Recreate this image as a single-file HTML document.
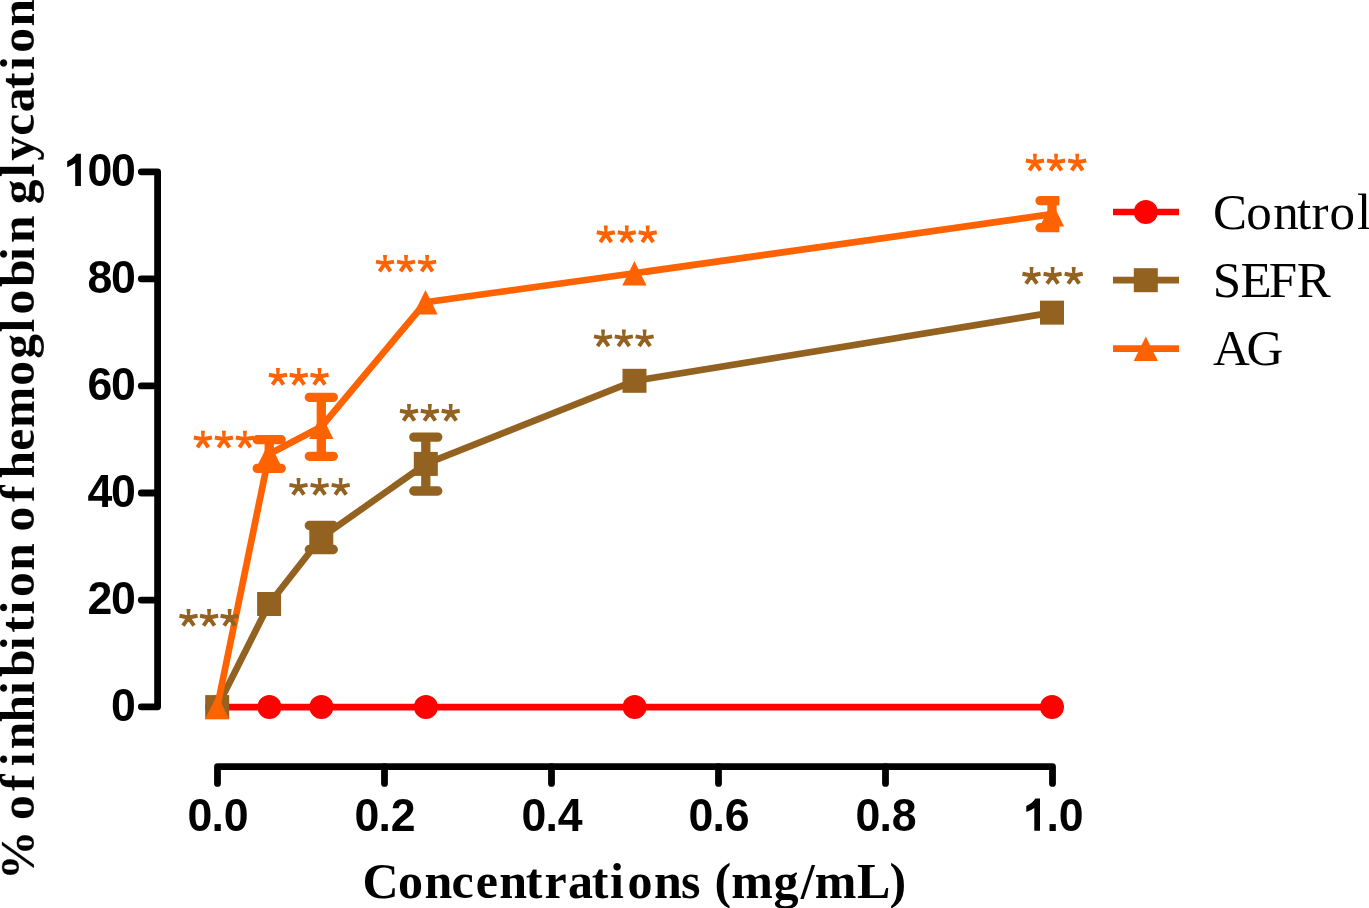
<!DOCTYPE html>
<html><head><meta charset="utf-8"><style>
html,body{margin:0;padding:0;background:#fff;width:1369px;height:908px;overflow:hidden}
svg{display:block}
text{font-kerning:none}
.t{font-family:"Liberation Sans",sans-serif;font-weight:bold}
.s{font-family:"Liberation Serif",serif}
.sb{font-family:"Liberation Serif",serif;font-weight:bold}
</style></head><body>
<svg width="1369" height="908" viewBox="0 0 1369 908"><g opacity="0.999">
<defs><clipPath id="cp"><rect x="0" y="0" width="1059.4" height="908"/></clipPath></defs>
<path d="M141.3 171.8H157.6V706.8H141.3" fill="none" stroke="#000" stroke-width="6.8" stroke-linecap="round" stroke-linejoin="round"/>
<path d="M141.3 600.04H157.6" stroke="#000" stroke-width="6.8" stroke-linecap="round"/>
<path d="M141.3 492.98H157.6" stroke="#000" stroke-width="6.8" stroke-linecap="round"/>
<path d="M141.3 385.92H157.6" stroke="#000" stroke-width="6.8" stroke-linecap="round"/>
<path d="M141.3 278.86H157.6" stroke="#000" stroke-width="6.8" stroke-linecap="round"/>
<path d="M217.5 783.4V766.6H1052.5V783.4" fill="none" stroke="#000" stroke-width="6.8" stroke-linecap="round" stroke-linejoin="round"/>
<path d="M384.50 766.6V783.4" stroke="#000" stroke-width="6.8" stroke-linecap="round"/>
<path d="M551.50 766.6V783.4" stroke="#000" stroke-width="6.8" stroke-linecap="round"/>
<path d="M718.50 766.6V783.4" stroke="#000" stroke-width="6.8" stroke-linecap="round"/>
<path d="M885.50 766.6V783.4" stroke="#000" stroke-width="6.8" stroke-linecap="round"/>
<text class="t" transform="scale(0.95 1)" x="197.42 222.53 235.47" y="830.80" font-size="47">0.0</text>
<text class="t" transform="scale(0.95 1)" x="373.21 398.32 411.26" y="830.80" font-size="47">0.2</text>
<text class="t" transform="scale(0.95 1)" x="549.00 574.11 587.05" y="830.80" font-size="47">0.4</text>
<text class="t" transform="scale(0.95 1)" x="724.79 749.89 762.84" y="830.80" font-size="47">0.6</text>
<text class="t" transform="scale(0.95 1)" x="900.58 925.68 938.63" y="830.80" font-size="47">0.8</text>
<path d="M1035.40 798.60 L1040.00 798.60 L1040.00 830.80 L1034.30 830.80 L1034.30 807.90 Q1030.60 810.60 1026.30 812.10 L1026.30 806.10 Q1032.10 803.60 1035.40 798.60Z" fill="#000"/>
<text class="t" transform="scale(0.95 1)" x="1101.47 1114.42" y="830.80" font-size="47">.0</text>
<path d="M76.30 153.80 L80.90 153.80 L80.90 186.00 L75.20 186.00 L75.20 163.10 Q71.50 165.80 67.20 167.30 L67.20 161.30 Q73.00 158.80 76.30 153.80Z" fill="#000"/>
<text class="t" transform="scale(0.95 1)" x="92.00 116.95" y="186.20" font-size="47">00</text>
<text class="t" transform="scale(0.95 1)" x="92.00 116.95" y="293.26" font-size="47">80</text>
<text class="t" transform="scale(0.95 1)" x="92.00 116.95" y="400.32" font-size="47">60</text>
<text class="t" transform="scale(0.95 1)" x="92.00 116.95" y="507.38" font-size="47">40</text>
<text class="t" transform="scale(0.95 1)" x="92.00 116.95" y="614.44" font-size="47">20</text>
<text class="t" transform="scale(0.95 1)" x="116.95" y="721.50" font-size="47">0</text>
<path d="M217.20 707.10 L269.40 707.10 L321.40 707.10 L425.90 707.10 L634.60 707.10 L1052.00 707.10" fill="none" stroke="#FF0000" stroke-width="6.7" stroke-linejoin="round"/>
<circle cx="217.20" cy="707.10" r="12" fill="#FF0000"/>
<circle cx="269.40" cy="707.10" r="12" fill="#FF0000"/>
<circle cx="321.40" cy="707.10" r="12" fill="#FF0000"/>
<circle cx="425.90" cy="707.10" r="12" fill="#FF0000"/>
<circle cx="634.60" cy="707.10" r="12" fill="#FF0000"/>
<circle cx="1052.00" cy="707.10" r="12" fill="#FF0000"/>
<path d="M217.20 707.10 L269.10 604.00 L321.30 537.50 L425.80 463.90 L634.50 380.80 L1052.00 312.65" fill="none" stroke="#936220" stroke-width="6.7" stroke-linejoin="round"/>
<g stroke="#936220" stroke-width="9.3" fill="none"><path d="M321.30 525.50V549.50"/><path d="M309.30 525.50H333.30M309.30 549.50H333.30" stroke-linecap="round"/></g>
<g stroke="#936220" stroke-width="9.3" fill="none"><path d="M425.80 437.10V491.00"/><path d="M413.80 437.10H437.80M413.80 491.00H437.80" stroke-linecap="round"/></g>
<rect x="205.20" y="695.10" width="24" height="24" fill="#936220"/>
<rect x="257.10" y="592.00" width="24" height="24" fill="#936220"/>
<rect x="309.30" y="525.50" width="24" height="24" fill="#936220"/>
<rect x="413.80" y="451.90" width="24" height="24" fill="#936220"/>
<rect x="622.50" y="368.80" width="24" height="24" fill="#936220"/>
<rect x="1040.00" y="300.65" width="24" height="24" fill="#936220"/>
<path d="M217.20 707.10 L269.20 454.00 L321.30 426.80 L425.50 302.30 L634.40 273.25 L1052.00 214.15" fill="none" stroke="#FF6200" stroke-width="6.7" stroke-linejoin="round"/>
<g stroke="#FF6200" stroke-width="9.3" fill="none"><path d="M269.20 439.70V468.40"/><path d="M257.20 439.70H281.20M257.20 468.40H281.20" stroke-linecap="round"/></g>
<g stroke="#FF6200" stroke-width="9.3" fill="none"><path d="M321.30 397.30V456.30"/><path d="M309.30 397.30H333.30M309.30 456.30H333.30" stroke-linecap="round"/></g>
<g stroke="#FF6200" stroke-width="9.3" fill="none" clip-path="url(#cp)"><path d="M1052.00 200.60V227.70"/><path d="M1040.00 200.60H1064.00M1040.00 227.70H1064.00" stroke-linecap="round"/></g>
<path d="M217.20 694.85L229.35 719.35H205.05Z" fill="#FF6200"/>
<path d="M269.20 441.75L281.35 466.25H257.05Z" fill="#FF6200"/>
<path d="M321.30 414.55L333.45 439.05H309.15Z" fill="#FF6200"/>
<path d="M425.50 290.05L437.65 314.55H413.35Z" fill="#FF6200"/>
<path d="M634.40 261.00L646.55 285.50H622.25Z" fill="#FF6200"/>
<path d="M1052.00 201.90L1064.15 226.40H1039.85Z" fill="#FF6200"/>
<path d="M1032.90 153.80H1036.90L1036.40 159.30L1036.50 162.30H1033.30L1033.40 159.30ZM1054.05 153.80H1058.05L1057.55 159.30L1057.65 162.30H1054.45L1054.55 159.30ZM1075.20 153.80H1079.20L1078.70 159.30L1078.80 162.30H1075.60L1075.70 159.30Z" fill="#FF6200"/><path d="M1034.90 162.30L1043.93 160.54M1034.90 162.30L1025.87 160.54M1034.90 162.30L1040.41 170.37M1034.90 162.30L1029.39 170.37M1056.05 162.30L1065.08 160.54M1056.05 162.30L1047.02 160.54M1056.05 162.30L1061.56 170.37M1056.05 162.30L1050.54 170.37M1077.20 162.30L1086.23 160.54M1077.20 162.30L1068.17 160.54M1077.20 162.30L1082.71 170.37M1077.20 162.30L1071.69 170.37" stroke="#FF6200" stroke-width="4" fill="none"/>
<path d="M1029.50 267.06H1033.50L1033.00 272.56L1033.10 275.56H1029.90L1030.00 272.56ZM1050.60 267.06H1054.60L1054.10 272.56L1054.20 275.56H1051.00L1051.10 272.56ZM1071.70 267.06H1075.70L1075.20 272.56L1075.30 275.56H1072.10L1072.20 272.56Z" fill="#936220"/><path d="M1031.50 275.56L1040.53 273.80M1031.50 275.56L1022.47 273.80M1031.50 275.56L1037.01 283.63M1031.50 275.56L1025.99 283.63M1052.60 275.56L1061.63 273.80M1052.60 275.56L1043.57 273.80M1052.60 275.56L1058.11 283.63M1052.60 275.56L1047.09 283.63M1073.70 275.56L1082.73 273.80M1073.70 275.56L1064.67 273.80M1073.70 275.56L1079.21 283.63M1073.70 275.56L1068.19 283.63" stroke="#936220" stroke-width="4" fill="none"/>
<path d="M603.80 225.50H607.80L607.30 231.00L607.40 234.00H604.20L604.30 231.00ZM624.75 225.50H628.75L628.25 231.00L628.35 234.00H625.15L625.25 231.00ZM645.70 225.50H649.70L649.20 231.00L649.30 234.00H646.10L646.20 231.00Z" fill="#FF6200"/><path d="M605.80 234.00L614.83 232.24M605.80 234.00L596.77 232.24M605.80 234.00L611.31 242.07M605.80 234.00L600.29 242.07M626.75 234.00L635.78 232.24M626.75 234.00L617.72 232.24M626.75 234.00L632.26 242.07M626.75 234.00L621.24 242.07M647.70 234.00L656.73 232.24M647.70 234.00L638.67 232.24M647.70 234.00L653.21 242.07M647.70 234.00L642.19 242.07" stroke="#FF6200" stroke-width="4" fill="none"/>
<path d="M601.05 329.60H605.05L604.55 335.10L604.65 338.10H601.45L601.55 335.10ZM621.82 329.60H625.82L625.32 335.10L625.42 338.10H622.22L622.32 335.10ZM642.60 329.60H646.60L646.10 335.10L646.20 338.10H643.00L643.10 335.10Z" fill="#936220"/><path d="M603.05 338.10L612.08 336.34M603.05 338.10L594.02 336.34M603.05 338.10L608.56 346.17M603.05 338.10L597.54 346.17M623.82 338.10L632.86 336.34M623.82 338.10L614.79 336.34M623.82 338.10L629.33 346.17M623.82 338.10L618.32 346.17M644.60 338.10L653.63 336.34M644.60 338.10L635.57 336.34M644.60 338.10L650.11 346.17M644.60 338.10L639.09 346.17" stroke="#936220" stroke-width="4" fill="none"/>
<path d="M383.00 254.90H387.00L386.50 260.40L386.60 263.40H383.40L383.50 260.40ZM404.05 254.90H408.05L407.55 260.40L407.65 263.40H404.45L404.55 260.40ZM425.10 254.90H429.10L428.60 260.40L428.70 263.40H425.50L425.60 260.40Z" fill="#FF6200"/><path d="M385.00 263.40L394.03 261.64M385.00 263.40L375.97 261.64M385.00 263.40L390.51 271.47M385.00 263.40L379.49 271.47M406.05 263.40L415.08 261.64M406.05 263.40L397.02 261.64M406.05 263.40L411.56 271.47M406.05 263.40L400.54 271.47M427.10 263.40L436.13 261.64M427.10 263.40L418.07 261.64M427.10 263.40L432.61 271.47M427.10 263.40L421.59 271.47" stroke="#FF6200" stroke-width="4" fill="none"/>
<path d="M407.00 404.06H411.00L410.50 409.56L410.60 412.56H407.40L407.50 409.56ZM427.85 404.06H431.85L431.35 409.56L431.45 412.56H428.25L428.35 409.56ZM448.70 404.06H452.70L452.20 409.56L452.30 412.56H449.10L449.20 409.56Z" fill="#936220"/><path d="M409.00 412.56L418.03 410.80M409.00 412.56L399.97 410.80M409.00 412.56L414.51 420.63M409.00 412.56L403.49 420.63M429.85 412.56L438.88 410.80M429.85 412.56L420.82 410.80M429.85 412.56L435.36 420.63M429.85 412.56L424.34 420.63M450.70 412.56L459.73 410.80M450.70 412.56L441.67 410.80M450.70 412.56L456.21 420.63M450.70 412.56L445.19 420.63" stroke="#936220" stroke-width="4" fill="none"/>
<path d="M275.95 368.07H279.95L279.45 373.57L279.55 376.57H276.35L276.45 373.57ZM296.72 368.07H300.72L300.22 373.57L300.32 376.57H297.12L297.22 373.57ZM317.50 368.07H321.50L321.00 373.57L321.10 376.57H317.90L318.00 373.57Z" fill="#FF6200"/><path d="M277.95 376.57L286.98 374.81M277.95 376.57L268.92 374.81M277.95 376.57L283.46 384.64M277.95 376.57L272.44 384.64M298.72 376.57L307.76 374.81M298.72 376.57L289.69 374.81M298.72 376.57L304.23 384.64M298.72 376.57L293.22 384.64M319.50 376.57L328.53 374.81M319.50 376.57L310.47 374.81M319.50 376.57L325.01 384.64M319.50 376.57L313.99 384.64" stroke="#FF6200" stroke-width="4" fill="none"/>
<path d="M296.50 478.10H300.50L300.00 483.60L300.10 486.60H296.90L297.00 483.60ZM317.60 478.10H321.60L321.10 483.60L321.20 486.60H318.00L318.10 483.60ZM338.70 478.10H342.70L342.20 483.60L342.30 486.60H339.10L339.20 483.60Z" fill="#936220"/><path d="M298.50 486.60L307.53 484.84M298.50 486.60L289.47 484.84M298.50 486.60L304.01 494.67M298.50 486.60L292.99 494.67M319.60 486.60L328.63 484.84M319.60 486.60L310.57 484.84M319.60 486.60L325.11 494.67M319.60 486.60L314.09 494.67M340.70 486.60L349.73 484.84M340.70 486.60L331.67 484.84M340.70 486.60L346.21 494.67M340.70 486.60L335.19 494.67" stroke="#936220" stroke-width="4" fill="none"/>
<path d="M200.90 430.80H204.90L204.40 436.30L204.50 439.30H201.30L201.40 436.30ZM221.90 430.80H225.90L225.40 436.30L225.50 439.30H222.30L222.40 436.30ZM242.90 430.80H246.90L246.40 436.30L246.50 439.30H243.30L243.40 436.30Z" fill="#FF6200"/><path d="M202.90 439.30L211.93 437.54M202.90 439.30L193.87 437.54M202.90 439.30L208.41 447.37M202.90 439.30L197.39 447.37M223.90 439.30L232.93 437.54M223.90 439.30L214.87 437.54M223.90 439.30L229.41 447.37M223.90 439.30L218.39 447.37M244.90 439.30L253.93 437.54M244.90 439.30L235.87 437.54M244.90 439.30L250.41 447.37M244.90 439.30L239.39 447.37" stroke="#FF6200" stroke-width="4" fill="none"/>
<path d="M186.50 609.06H190.50L190.00 614.56L190.10 617.56H186.90L187.00 614.56ZM207.05 609.06H211.05L210.55 614.56L210.65 617.56H207.45L207.55 614.56ZM227.60 609.06H231.60L231.10 614.56L231.20 617.56H228.00L228.10 614.56Z" fill="#936220"/><path d="M188.50 617.56L197.53 615.80M188.50 617.56L179.47 615.80M188.50 617.56L194.01 625.63M188.50 617.56L182.99 625.63M209.05 617.56L218.08 615.80M209.05 617.56L200.02 615.80M209.05 617.56L214.56 625.63M209.05 617.56L203.54 625.63M229.60 617.56L238.63 615.80M229.60 617.56L220.57 615.80M229.60 617.56L235.11 625.63M229.60 617.56L224.09 625.63" stroke="#936220" stroke-width="4" fill="none"/>
<path d="M1113 212.0H1179" stroke="#FF0000" stroke-width="6.7"/>
<circle cx="1145.80" cy="212.00" r="12" fill="#FF0000"/>
<path d="M1113 280.2H1179" stroke="#936220" stroke-width="6.7"/>
<rect x="1133.80" y="268.20" width="24" height="24" fill="#936220"/>
<path d="M1113 348.7H1179" stroke="#FF6200" stroke-width="6.7"/>
<path d="M1145.80 336.45L1157.95 360.95H1133.65Z" fill="#FF6200"/>
<text class="s" x="1213.1 1246.2 1273.2 1297.1 1311.6 1329.5 1357.0" y="228.8" font-size="51">Control</text>
<text class="s" x="1212.7 1240.5 1268.8 1296.7" y="296.8" font-size="51">SEFR</text>
<text class="s" x="1213.0 1246.5" y="365.0" font-size="51">AG</text>
<text class="sb" x="362.6 398.0 424.5 451.6 475.7 499.2 525.8 544.5 568.1 591.8 610.0 627.6 653.9 680.9 714.5 731.3 773.6 800.8 814.8 856.9 889.5" y="897.5" font-size="50">Concentrations(mg/mL)</text>
<text class="sb" x="19.9 80.1 109.1 133.8 150.7 177.6 204.9 223.1 249.8 267.2 285.6 303.0 329.2 368.5 397.9 421.5 449.2 472.0 514.2 541.2 567.6 585.6 613.0 639.1 656.9 695.8 722.7 739.2 764.3 787.8 811.1 829.9 847.2 873.6" y="0" font-size="49.5" transform="translate(33.9 900) rotate(-90)">%ofinhibitionofhemoglobinglycation</text>
</g></svg></body></html>
